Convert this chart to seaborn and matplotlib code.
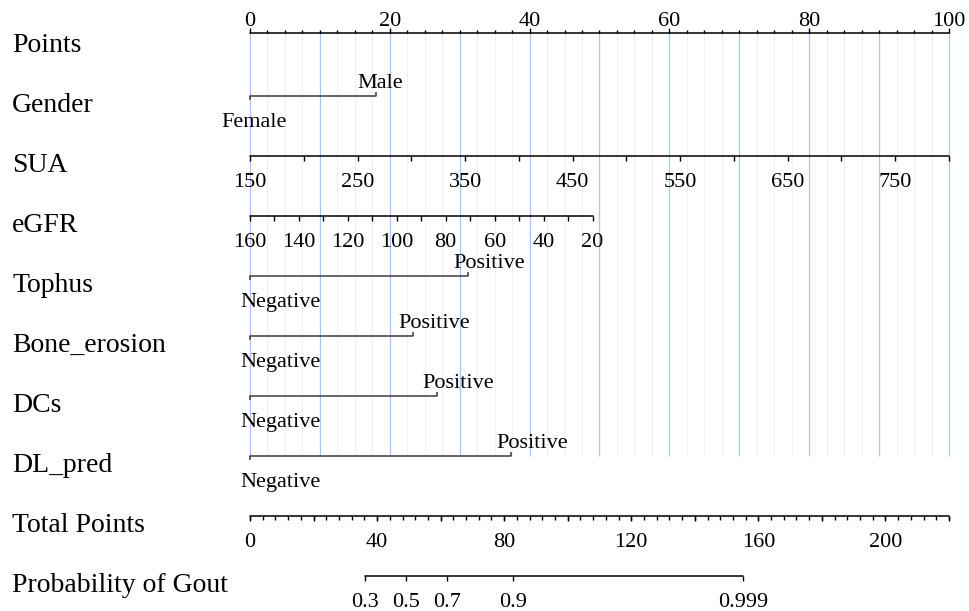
import numpy as np
import pandas as pd
import seaborn as sns
import matplotlib.pyplot as plt

# Values
row_names = ["Points", "Gender", "SUA", "eGFR", "Tophus", "Bone_erosion",
             "DCs", "DL_pred", "Total Points", "Probability of Gout"]

point_labels = [0, 20, 40, 60, 80, 100]

gender_levels = ["Female", "Male"]
gender_points = [0, 18.0]

sua_labels = [150, 250, 350, 450, 550, 650, 750]
sua_range = [150, 800]          # maps onto 0 .. 100 points

egfr_labels = [160, 140, 120, 100, 80, 60, 40, 20]
egfr_range = [160, 20]
egfr_points = [0, 49.0]

binary_rows = ["Tophus", "Bone_erosion", "DCs", "DL_pred"]
binary_levels = ["Negative", "Positive"]
positive_points = [31.2, 23.3, 26.8, 37.3]

total_labels = [0, 40, 80, 120, 160, 200]
total_range = [0, 220]          # maps onto 0 .. 100 points

prob_labels = ["0.3", "0.5", "0.7", "0.9", "0.999"]
prob_total = [36.2, 49.1, 62.0, 82.8, 155.2]


def sua_to_pts(v):
    return (np.asarray(v, float) - sua_range[0]) / (sua_range[1] - sua_range[0]) * 100


def egfr_to_pts(v):
    frac = (egfr_range[0] - np.asarray(v, float)) / (egfr_range[0] - egfr_range[1])
    return egfr_points[0] + frac * (egfr_points[1] - egfr_points[0])


def total_to_pts(t):
    return np.asarray(t, float) / total_range[1] * 100


sns.set_theme(style="white")
plt.rcParams["font.family"] = ["Liberation Serif", "DejaVu Serif"]

W, H = 969, 611
PX = 6.99                      # pixels per point on the Points scale
fig = plt.figure(figsize=(W / 100, H / 100), dpi=100)
ax = fig.add_axes([0, 0, 1, 1])
ax.set_xlim(-250 / PX, (W - 250) / PX)
ax.set_ylim(H, 0)
ax.axis("off")

row_y = {name: 42 + 60 * i for i, name in enumerate(row_names)}
line_y = {name: y - 6 for name, y in row_y.items()}
line_y["Points"] = row_y["Points"] - 9

LAB = 16
ABOVE, BELOW = 7, 31


def px(n):
    return n / PX


# background grid from the Points scale
grid_top, grid_bot = line_y["Points"], line_y["DL_pred"]
minor = [g for g in np.arange(0, 100.01, 2.5) if g % 10]
ax.vlines(minor, grid_top, grid_bot, color="#f0f0f0", lw=0.8, zorder=0)
ax.vlines(np.arange(0, 101, 10), grid_top, grid_bot, color="#a9c6ee", lw=0.9, zorder=1)

# continuous scales: main lines through seaborn
scales = pd.DataFrame({
    "row": ["Points"] * 2 + ["SUA"] * 2 + ["eGFR"] * 2 + ["Total Points"] * 2
           + ["Probability of Gout"] * 2,
    "x": [0, 100,
          *sua_to_pts(sua_range), *egfr_to_pts(egfr_range),
          *total_to_pts(total_range), *total_to_pts([prob_total[0], prob_total[-1]])],
})
scales["y"] = scales["row"].map(line_y)
sns.lineplot(data=scales, x="x", y="y", units="row", estimator=None,
             color="black", lw=1.1, ax=ax, legend=False, zorder=3)


def ticks(xs, y, length, up):
    ax.vlines(xs, y, y - length if up else y + length, color="black", lw=1.0, zorder=3)


def labels(xs, texts, y, up):
    for x, t in zip(xs, texts):
        ax.text(x, y - ABOVE if up else y + BELOW, str(t), ha="center",
                va="baseline", fontsize=LAB, color="black")


# Points
y = line_y["Points"]
ticks([t for t in np.arange(0, 100.01, 2.5) if t % 20], y, 3.5, True)
ticks(point_labels, y, 5, True)
labels(point_labels, point_labels, y, True)

# SUA
y = line_y["SUA"]
ticks(sua_to_pts(np.arange(sua_range[0], sua_range[1] + 1, 50)), y, 5, False)
labels(sua_to_pts(sua_labels), sua_labels, y, False)

# eGFR
y = line_y["eGFR"]
ticks(egfr_to_pts(np.arange(egfr_range[0], egfr_range[1] - 1, -10)), y, 5, False)
labels(egfr_to_pts(egfr_labels), egfr_labels, y, False)

# Total Points
y = line_y["Total Points"]
ticks(total_to_pts(np.arange(0, total_range[1] + 1, 4)), y, 3.5, False)
ticks(total_to_pts(np.arange(0, total_range[1] + 1, 20)), y, 5, False)
labels(total_to_pts(total_labels), total_labels, y, False)

# Probability
y = line_y["Probability of Gout"]
ticks(total_to_pts(prob_total), y, 5, False)
labels(total_to_pts(prob_total), prob_labels, y, False)

# categorical rows
cat_color = "#3c3c3c"


def category(row, p, low, high, low_dx, low_ha, high_dx):
    y = line_y[row]
    ax.plot([0, p], [y, y], color=cat_color, lw=1.1, zorder=3)
    ax.vlines(0, y, y + 4, color=cat_color, lw=1.1, zorder=3)
    ax.vlines(p, y, y - 4, color=cat_color, lw=1.1, zorder=3)
    ax.text(0 + px(low_dx), y + BELOW, low, ha=low_ha, va="baseline",
            fontsize=LAB, color="black")
    ax.text(p + px(high_dx), y - ABOVE - 1, high, ha="center", va="baseline",
            fontsize=LAB, color="black")


category("Gender", gender_points[1], gender_levels[0], gender_levels[1], 4, "center", 4)
for name, p in zip(binary_rows, positive_points):
    category(name, p, binary_levels[0], binary_levels[1], -10, "left", 21)

# row titles
for name in row_names:
    ax.text(px(12) - 250 / PX, row_y[name] + 9.5, name, ha="left",
            va="baseline", fontsize=20, color="black")

fig.savefig("out.png", dpi=100)
